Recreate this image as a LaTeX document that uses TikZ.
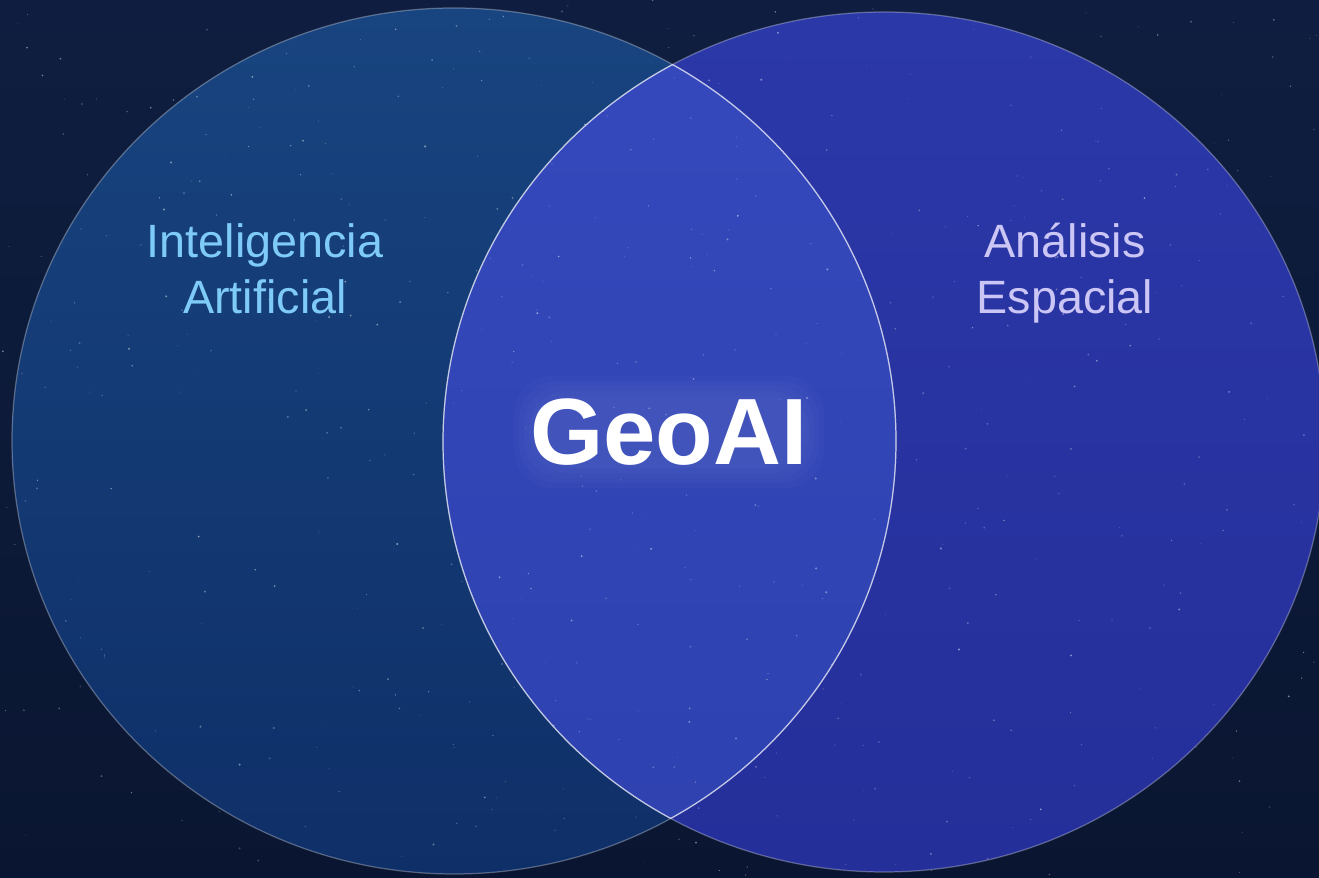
\documentclass[tikz,border=0pt]{standalone}
\usepackage{fontspec}
\setmainfont{Liberation Sans}
\definecolor{bgtop}{HTML}{0F1E40}
\definecolor{bgbot}{HTML}{0A1631}
\definecolor{leftA}{HTML}{18447F}
\definecolor{leftB}{HTML}{0F2F68}
\definecolor{rightA}{HTML}{2B38A8}
\definecolor{rightB}{HTML}{252F9A}
\definecolor{midA}{HTML}{3549BD}
\definecolor{midB}{HTML}{2E41AF}
\definecolor{iacol}{HTML}{7FCBF7}
\definecolor{aecol}{HTML}{CBC6F5}
\tikzset{
  setlabel/.style={font=\fontsize{26.6}{31.7}\selectfont, align=center, inner sep=0pt, text depth=0pt, anchor=south},
  titletext/.style={font=\fontsize{53.6}{60}\selectfont\bfseries, inner sep=0pt, anchor=base},
  outerrim/.style={draw=white, draw opacity=0.3, line width=0.7pt},
  innerrim/.style={draw=white, draw opacity=0.6, line width=0.7pt},
  haze/.style={fill=white, fill opacity=0.018, rounded corners=22pt},
}
\begin{document}
\begin{tikzpicture}[x=0.02cm,y=0.02cm]
\useasboundingbox (0,0) rectangle (1319,878);
\shade[top color=bgtop,bottom color=bgbot] (0,0) rectangle (1319,878);
% circles
\shade[top color=leftA,bottom color=leftB] (454,437) ellipse [x radius=442, y radius=433];
\shade[top color=rightA,bottom color=rightB] (884,436) ellipse [x radius=441, y radius=430];
\begin{scope}
  \clip (454,437) ellipse [x radius=442, y radius=433];
  \shade[top color=midA,bottom color=midB] (884,436) ellipse [x radius=441, y radius=430];
\end{scope}
% stars
\pgfmathsetseed{7}
\foreach \k in {1,...,520}{
  \pgfmathsetmacro{\sx}{rnd*1319}
  \pgfmathsetmacro{\sy}{rnd*878}
  \pgfmathsetmacro{\sr}{0.35+rnd*0.8}
  \pgfmathsetmacro{\so}{0.1+rnd*0.4}
  \fill[white, opacity=\so] (\sx,\sy) circle[radius=\sr];
}
% rims
\path[outerrim] (454,437) ellipse [x radius=442, y radius=433];
\path[outerrim] (884,436) ellipse [x radius=441, y radius=430];
\begin{scope}
  \clip (884,436) ellipse [x radius=441, y radius=430];
  \path[innerrim] (454,437) ellipse [x radius=442, y radius=433];
\end{scope}
\begin{scope}
  \clip (454,437) ellipse [x radius=442, y radius=433];
  \path[innerrim] (884,436) ellipse [x radius=441, y radius=430];
\end{scope}
% labels
\node[setlabel, text=iacol] (ia) at (265,564) {Inteligencia\\Artificial};
\node[setlabel, text=aecol] (ae) at (1065,564) {Análisis\\Espacial};
% soft glow behind title
\foreach \g in {0,5,10,15,20}{
  \path[haze] (534-\g,410-\g) rectangle (804+\g,482+\g);
}
\node[titletext, text=white] (geo) at (669,413) {GeoAI};
\end{tikzpicture}
\end{document}
